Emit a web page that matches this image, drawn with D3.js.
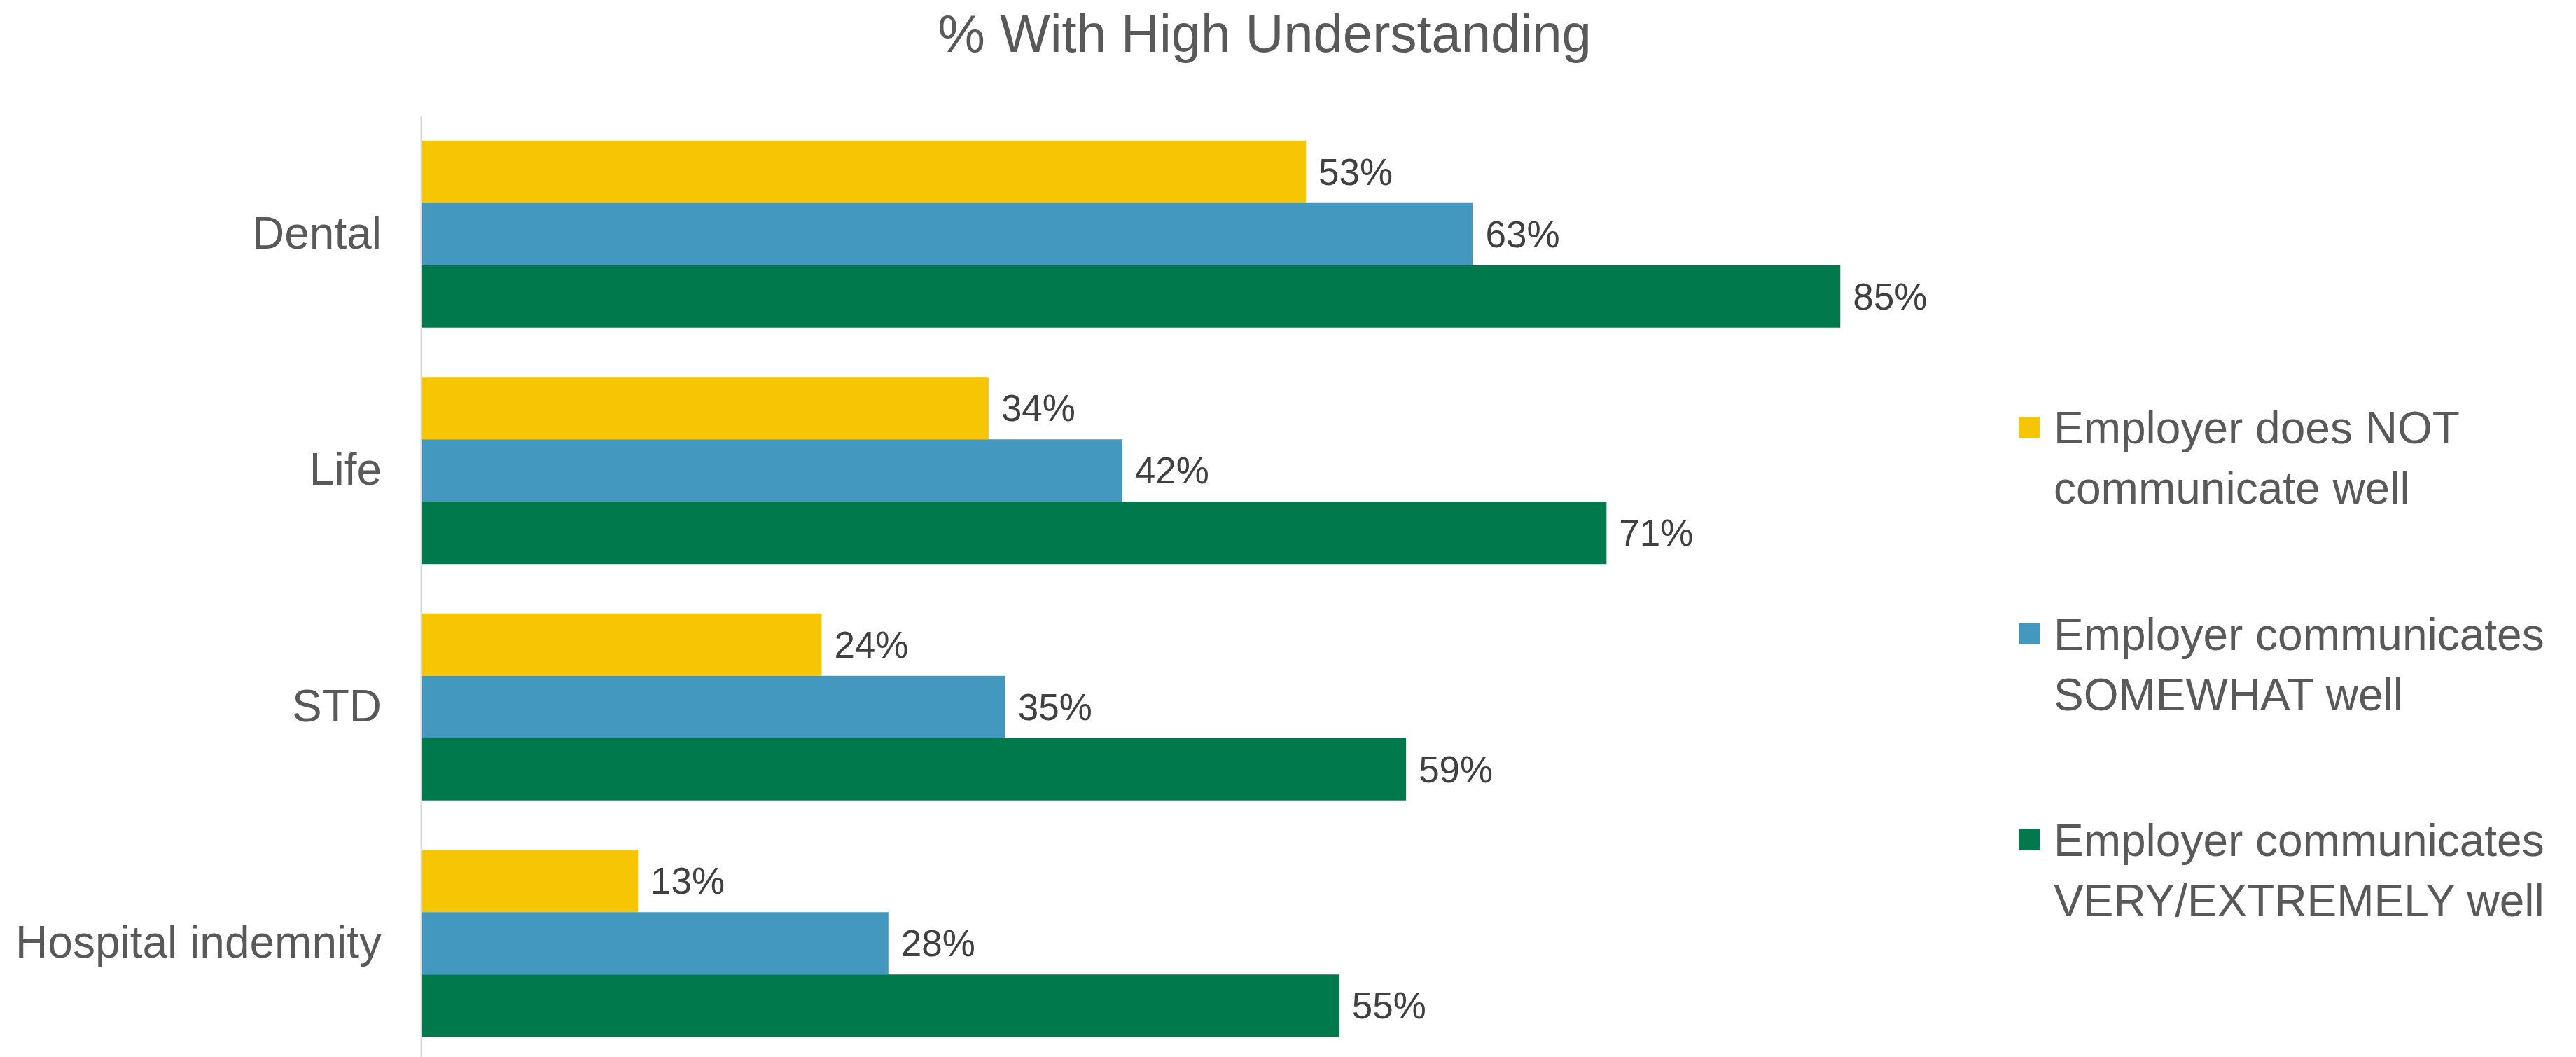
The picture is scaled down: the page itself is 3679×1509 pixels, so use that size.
<!DOCTYPE html>
<html>
<head>
<meta charset="utf-8">
<script src="https://cdn.jsdelivr.net/npm/d3@7"></script>
<style>
  html, body { margin: 0; padding: 0; background: #ffffff; }
  svg { display: block; }
  text { font-family: "Liberation Sans", Arial, sans-serif; }
</style>
</head>
<body>
<svg id="chart"></svg>
<script>
// Benefit categories (top to bottom)
const categories = ["Dental", "Life", "STD", "Hospital indemnity"];

// Series names, as shown in the legend
const seriesNames = [
  "Employer does NOT communicate well",
  "Employer communicates SOMEWHAT well",
  "Employer communicates VERY/EXTREMELY well"
];
// Legend text split into two lines per entry
const legendLines = [
  ["Employer does NOT", "communicate well"],
  ["Employer communicates", "SOMEWHAT well"],
  ["Employer communicates", "VERY/EXTREMELY well"]
];

// % with high understanding, per series, in category order
const notWell      = [53, 34, 24, 13];
const somewhatWell = [63, 42, 35, 28];
const veryWell     = [85, 71, 59, 55];

const seriesColors = ["#F6C605", "#4398C0", "#007A4D"];

const W = 3679, H = 1509;
const svg = d3.select("#chart").attr("width", W).attr("height", H);

const seriesValues = [notWell, somewhatWell, veryWell];
const rows = categories.map((c, i) => ({
  category: c,
  values: seriesValues.map((arr, s) => ({ series: s, value: arr[i] }))
}));

// Scales
const x = d3.scaleLinear().domain([0, 100]).range([601, 2986]);
const y = d3.scaleBand()
  .domain(categories)
  .range([165.5, 1515.5])
  .paddingInner(0.209)
  .paddingOuter(0.1045);
const ySub = d3.scaleBand()
  .domain(d3.range(seriesNames.length))
  .range([0, y.bandwidth()])
  .padding(0);

// Title
svg.append("text")
  .attr("x", 1806)
  .attr("y", 74)
  .attr("text-anchor", "middle")
  .attr("fill", "#595959")
  .style("font-size", "76px")
  .text("% With High Understanding");

// Bars
const groups = svg.append("g").selectAll("g")
  .data(rows)
  .join("g")
  .attr("transform", d => `translate(0,${y(d.category)})`);

groups.selectAll("rect")
  .data(d => d.values)
  .join("rect")
  .attr("x", x(0))
  .attr("y", d => ySub(d.series))
  .attr("width", d => x(d.value) - x(0))
  .attr("height", ySub.bandwidth())
  .attr("fill", d => seriesColors[d.series]);

// Value labels
groups.selectAll("text.value")
  .data(d => d.values)
  .join("text")
  .attr("class", "value")
  .attr("x", d => x(d.value) + 18)
  .attr("y", d => ySub(d.series) + ySub.bandwidth() / 2)
  .attr("dy", "0.35em")
  .attr("fill", "#404040")
  .style("font-size", "53px")
  .text(d => d.value + "%");

// Category axis
const axis = svg.append("g")
  .attr("transform", `translate(${x(0)},0)`)
  .call(d3.axisLeft(y).tickSize(0).tickPadding(56));
axis.select(".domain").attr("stroke", "#D9D9D9").attr("stroke-width", 2);
axis.selectAll(".tick text")
  .attr("fill", "#595959")
  .style("font-size", "64px")
  .style("font-family", "'Liberation Sans', Arial, sans-serif");

// Legend
const legend = svg.append("g").selectAll("g")
  .data(seriesNames)
  .join("g")
  .attr("transform", (d, i) => `translate(2883,${610 + i * 294.5})`);

legend.append("rect")
  .attr("x", 0)
  .attr("y", -15)
  .attr("width", 30)
  .attr("height", 30)
  .attr("fill", (d, i) => seriesColors[i]);

legend.append("text")
  .attr("x", 50)
  .attr("y", 23)
  .attr("fill", "#595959")
  .style("font-size", "64px")
  .selectAll("tspan")
  .data((d, i) => legendLines[i])
  .join("tspan")
  .attr("x", 50)
  .attr("dy", (d, j) => j === 0 ? 0 : 86)
  .text(d => d);
</script>
</body>
</html>
